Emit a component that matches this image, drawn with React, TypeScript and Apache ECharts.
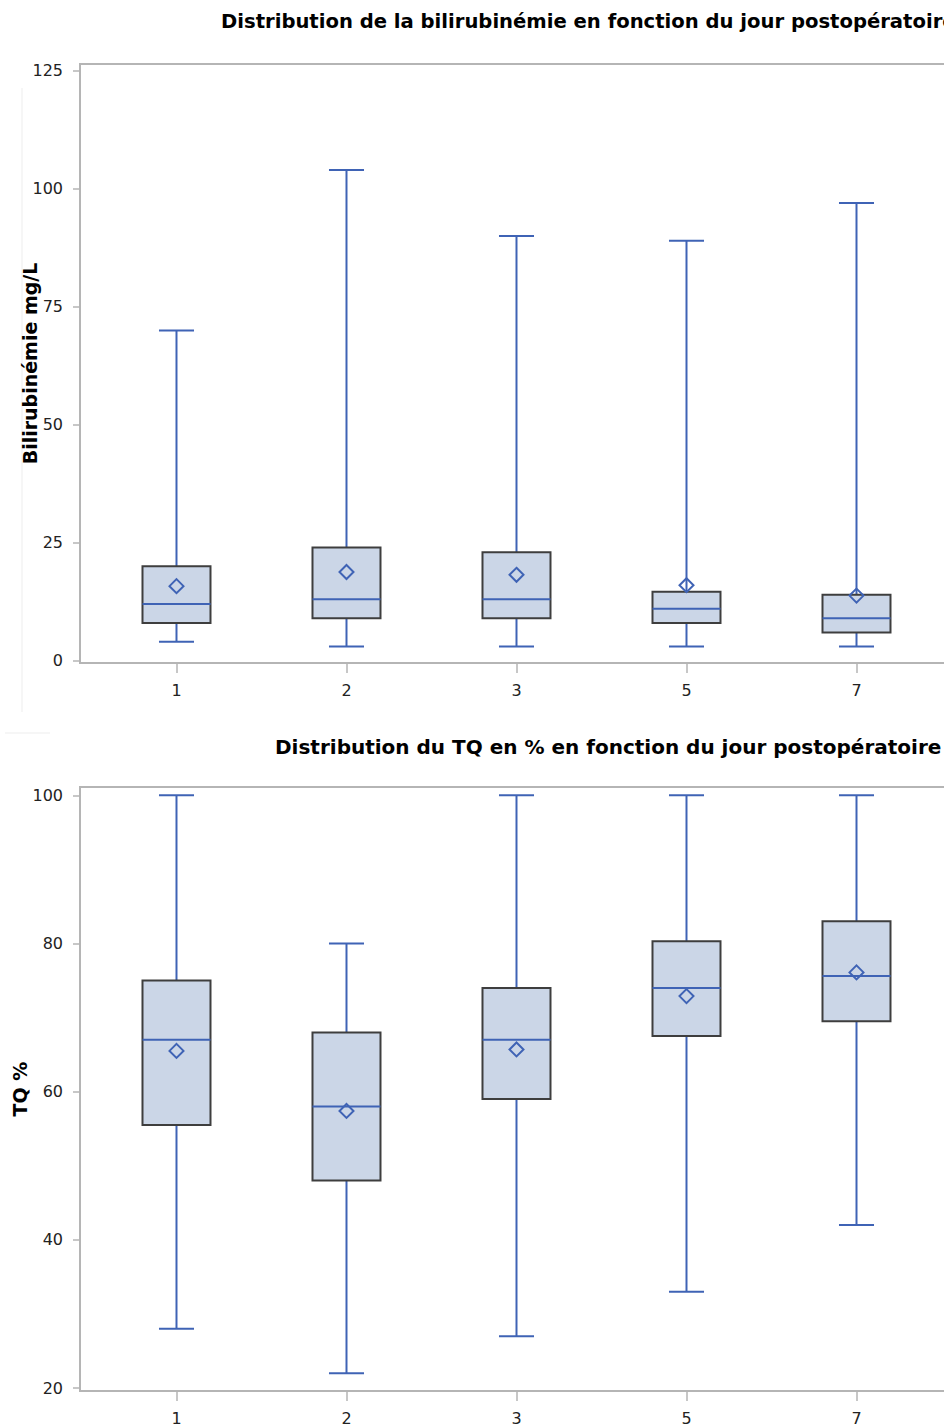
import React, { useEffect, useRef } from 'react';
import * as echarts from 'echarts';

// ---- Data ----
const days = ['1', '2', '3', '5', '7'];

const biliMin = [4, 3, 3, 3, 3];
const biliQ1 = [8, 9, 9, 8, 6];
const biliMedian = [12, 13, 13, 11, 9];
const biliQ3 = [20, 24, 23, 14.6, 14];
const biliMax = [70, 104, 90, 89, 97];
const biliMean = [15.8, 18.8, 18.2, 16, 13.8];
const biliTicks = [0, 25, 50, 75, 100, 125];

const tqMin = [28, 22, 27, 33, 42];
const tqQ1 = [55.5, 48, 59, 67.5, 69.5];
const tqMedian = [67, 58, 67, 74, 75.6];
const tqQ3 = [75, 68, 74, 80.3, 83];
const tqMax = [100, 80, 100, 100, 100];
const tqMean = [65.5, 57.4, 65.7, 72.9, 76.1];
const tqTicks = [20, 40, 60, 80, 100];

const dayIndex = days.map((_, i) => i);

const BLUE = '#3F63B5';
const FILL = '#CBD6E7';
const EDGE = '#3E3E3E';
const AXIS = '#B5B5B5';
const FONT = 'DejaVu Sans';

function buildData(mins: number[], q1s: number[], meds: number[], q3s: number[], maxs: number[], means: number[]) {
  return days.map((_, i) => [i, mins[i], q1s[i], meds[i], q3s[i], maxs[i], means[i]]);
}

function renderBox(params: any, api: any) {
  const i = api.value(0);
  const yOf = (v: number) => api.coord([i, v])[1];
  const cx = api.coord([i, api.value(3)])[0];
  const band = api.size([1, 0])[0];
  const half = band * 0.2;
  const cap = band * 0.103;
  const yMin = yOf(api.value(1));
  const yQ1 = yOf(api.value(2));
  const yMed = yOf(api.value(3));
  const yQ3 = yOf(api.value(4));
  const yMax = yOf(api.value(5));
  const yMean = yOf(api.value(6));
  const ls = { stroke: BLUE, lineWidth: 2 };
  const d = 7;
  return {
    type: 'group',
    children: [
      { type: 'line', shape: { x1: cx, y1: yQ3, x2: cx, y2: yMax }, style: ls },
      { type: 'line', shape: { x1: cx, y1: yMin, x2: cx, y2: yQ1 }, style: ls },
      { type: 'line', shape: { x1: cx - cap, y1: yMax, x2: cx + cap, y2: yMax }, style: ls },
      { type: 'line', shape: { x1: cx - cap, y1: yMin, x2: cx + cap, y2: yMin }, style: ls },
      {
        type: 'rect',
        shape: { x: cx - half, y: yQ3, width: half * 2, height: yQ1 - yQ3 },
        style: { fill: FILL, stroke: EDGE, lineWidth: 2 },
      },
      { type: 'line', shape: { x1: cx - half, y1: yMed, x2: cx + half, y2: yMed }, style: ls },
      {
        type: 'polygon',
        shape: { points: [[cx, yMean - d], [cx + d, yMean], [cx, yMean + d], [cx - d, yMean]] },
        style: { fill: 'none', stroke: BLUE, lineWidth: 2 },
      },
    ],
  };
}

function xAxis(gridIndex: number) {
  return {
    type: 'value',
    gridIndex,
    min: -0.5676,
    max: 4.55,
    axisLine: { show: true, onZero: false, lineStyle: { color: AXIS, width: 2 } },
    axisTick: { show: true, customValues: dayIndex, length: 10, lineStyle: { color: AXIS, width: 1.5 } },
    axisLabel: {
      customValues: dayIndex,
      formatter: (v: number) => days[Math.round(v)],
      margin: 19,
      fontSize: 16,
      color: '#222',
      fontFamily: FONT,
    },
    splitLine: { show: false },
  };
}

function yAxis(gridIndex: number, min: number, max: number, ticks: number[], name: string, nameGap: number) {
  return {
    type: 'value',
    gridIndex,
    min,
    max,
    name,
    nameLocation: 'middle',
    nameGap,
    nameMoveOverlap: false,
    nameTextStyle: { fontWeight: 'bold', fontSize: 19, color: '#000', fontFamily: FONT },
    axisLine: { show: true, onZero: false, lineStyle: { color: AXIS, width: 2 } },
    axisTick: { show: true, customValues: ticks, length: 7, lineStyle: { color: AXIS, width: 1.5 } },
    axisLabel: { customValues: ticks, margin: 17, fontSize: 16, color: '#222', fontFamily: FONT },
    splitLine: { show: false },
  };
}

export default function App() {
  const ref = useRef<HTMLDivElement>(null);

  useEffect(() => {
    if (!ref.current) return;
    const chart = echarts.init(ref.current, null, { renderer: 'svg' });
    chart.setOption({
      animation: false,
      backgroundColor: '#FFFFFF',
      title: [
        {
          text: 'Distribution de la bilirubinémie en fonction du jour postopératoire',
          left: 221,
          top: 11,
          padding: 0,
          textStyle: { fontSize: 19.6, fontWeight: 'bold', color: '#000', fontFamily: FONT },
        },
        {
          text: 'Distribution du TQ en % en fonction du jour postopératoire',
          left: 275,
          top: 737,
          padding: 0,
          textStyle: { fontSize: 20, fontWeight: 'bold', color: '#000', fontFamily: FONT },
        },
      ],
      grid: [
        { left: 80, top: 64, width: 870, height: 599, outerBoundsMode: 'none', show: true, borderColor: AXIS, borderWidth: 2, backgroundColor: '#FFFFFF' },
        { left: 80, top: 787, width: 870, height: 604, outerBoundsMode: 'none', show: true, borderColor: AXIS, borderWidth: 2, backgroundColor: '#FFFFFF' },
      ],
      xAxis: [xAxis(0), xAxis(1)],
      yAxis: [
        yAxis(0, -0.49, 126.48, biliTicks, 'Bilirubinémie mg/L', 41),
        yAxis(1, 19.6, 101.12, tqTicks, 'TQ %', 51),
      ],
      graphic: [
        { type: 'line', shape: { x1: 22, y1: 88, x2: 22, y2: 712 }, style: { stroke: '#EDEDED', lineWidth: 1 } },
        { type: 'line', shape: { x1: 5, y1: 733, x2: 50, y2: 733 }, style: { stroke: '#EDEDED', lineWidth: 1 } },
      ],
      series: [
        {
          type: 'custom',
          xAxisIndex: 0,
          yAxisIndex: 0,
          encode: { x: 0, y: [1, 2, 3, 4, 5, 6] },
          data: buildData(biliMin, biliQ1, biliMedian, biliQ3, biliMax, biliMean),
          renderItem: renderBox,
          clip: false,
        },
        {
          type: 'custom',
          xAxisIndex: 1,
          yAxisIndex: 1,
          encode: { x: 0, y: [1, 2, 3, 4, 5, 6] },
          data: buildData(tqMin, tqQ1, tqMedian, tqQ3, tqMax, tqMean),
          renderItem: renderBox,
          clip: false,
        },
      ],
    });
    return () => chart.dispose();
  }, []);

  return <div ref={ref} style={{ position: 'absolute', left: 0, top: 0, width: 944, height: 1427 }} />;
}
